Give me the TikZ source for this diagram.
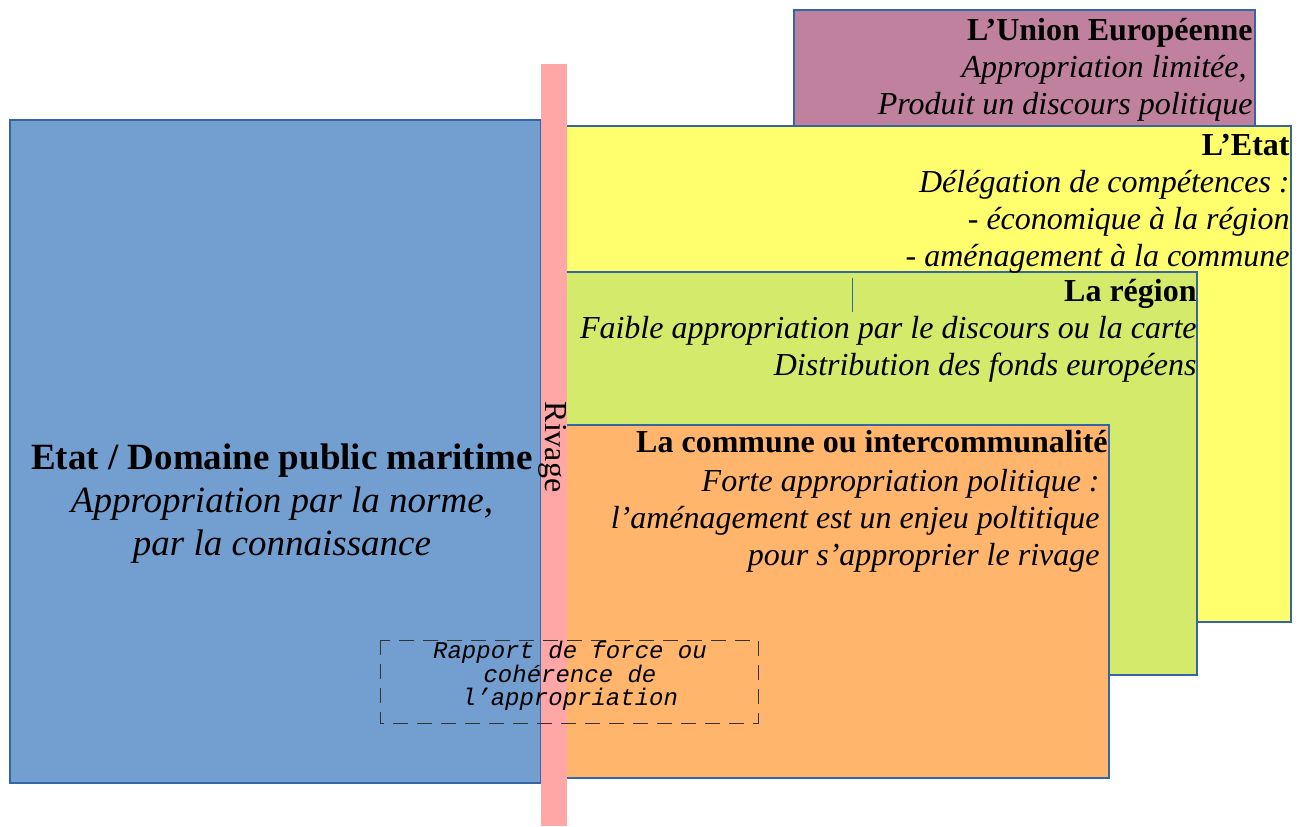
\documentclass[tikz,border=0pt]{standalone}
\usepackage{fontspec}
\setmainfont{Liberation Serif}
\setmonofont{Liberation Mono}
\definecolor{edgeblue}{HTML}{3465A4}
\definecolor{dpmblue}{HTML}{729FCF}
\definecolor{uepurple}{HTML}{BF819E}
\definecolor{etatyellow}{HTML}{FFFF6D}
\definecolor{regiongreen}{HTML}{D4EA6B}
\definecolor{communeorange}{HTML}{FFB66C}
\definecolor{rivagepink}{HTML}{FFA6A6}
\definecolor{dashgrey}{HTML}{333333}
\newcommand{\tailgap}{\rule{4pt}{0pt}}
\begin{document}
\begin{tikzpicture}[x=0.5pt,y=-0.5pt,
  zone/.style={draw=edgeblue,line width=0.6pt},
  zonetext/.style={anchor=base east,align=right,inner sep=0pt,
    font=\fontsize{16}{18.4}\selectfont}]
  \useasboundingbox (0,0) rectangle (1306,826);
  % zones, back to front
  \filldraw[zone,fill=uepurple] (794,10) rectangle (1255,126);
  \filldraw[zone,fill=etatyellow] (560,126) rectangle (1291,622);
  \filldraw[zone,fill=regiongreen] (560,272) rectangle (1197,675);
  \filldraw[zone,fill=communeorange] (560,425) rectangle (1109,778);
  \filldraw[zone,fill=dpmblue] (10,120) rectangle (541,783);
  \draw[edgeblue] (852,278) -- (852,312);
  % rivage
  \fill[rivagepink] (541,64) rectangle (567,826);
  \node[rotate=-90,inner sep=0pt,font=\fontsize{16}{18.4}\selectfont] (rivage) at (553,447) {Rivage};
  % texts (base = last line)
  \node[zonetext] (ue) at (1253,114) {\textbf{L’Union Européenne}\\
    \textit{Appropriation limitée,}\rule{3pt}{0pt}\\
    \textit{Produit un discours politique}};
  \node[zonetext] (etat) at (1290,266) {\textbf{L’Etat}\\
    \textit{Délégation de compétences :}\\
    \textit{- économique à la région}\\
    \textit{- aménagement à la commune}};
  \node[zonetext] (region) at (1197,375) {\textbf{La région}\\
    \textit{Faible appropriation par le discours ou la carte}\\
    \textit{Distribution des fonds européens}};
  \node[zonetext] (commune) at (1108,565) {\textbf{La commune ou intercommunalité}\\[1pt]
    \textit{Forte appropriation politique :}\tailgap\\
    \textit{l’aménagement est un enjeu poltitique}\tailgap\\
    \textit{pour s’approprier le rivage}\tailgap};
  \node[anchor=base,align=center,inner sep=0pt,font=\fontsize{18.5}{21.5}\selectfont] (dpm) at (282,555)
    {\textbf{Etat / Domaine public maritime}\\
    \textit{Appropriation par la norme,}\\
    \textit{par la connaissance}};
  % rapport de force
  \draw[dashgrey,line width=0.5pt,dash pattern=on 7.5pt off 4.5pt] (380,640) rectangle (758,723);
  \node[align=center,inner sep=0pt,font=\fontsize{12}{11.75}\ttfamily\itshape] (rapport) at (570,676)
    {Rapport de force ou\\cohérence de\\l’appropriation};
\end{tikzpicture}
\end{document}
